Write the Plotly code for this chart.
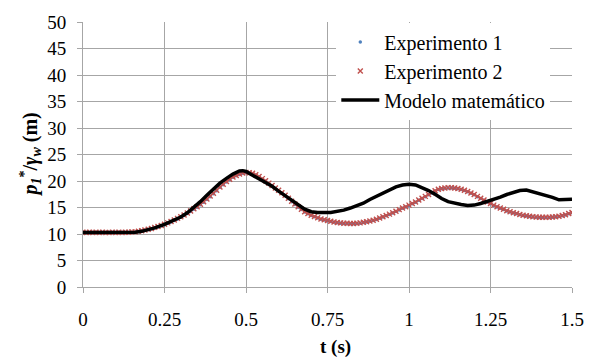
import plotly.graph_objects as go

# ---------------- data ----------------
t_exp = [round(i * 0.01, 2) for i in range(151)]

exp1 = [10.3, 10.3, 10.3, 10.3, 10.3, 10.3, 10.3, 10.3, 10.3, 10.3,
        10.3, 10.3, 10.3, 10.3, 10.3, 10.3, 10.35, 10.45, 10.55, 10.7,
        10.85, 11.0, 11.2, 11.35, 11.55, 11.75, 12.0, 12.25, 12.55, 12.85,
        13.15, 13.5, 13.85, 14.25, 14.65, 15.05, 15.5, 16.0, 16.5, 17.05,
        17.6, 18.15, 18.8, 19.3, 19.8, 20.25, 20.7, 21.0, 21.25, 21.45,
        21.55, 21.5, 21.35, 21.1, 20.75, 20.35, 19.95, 19.5, 19.05, 18.6,
        18.15, 17.7, 17.2, 16.65, 16.1, 15.55, 15.05, 14.6, 14.15, 13.8,
        13.5, 13.25, 13.0, 12.8, 12.65, 12.5, 12.35, 12.2, 12.1, 12.05,
        12.0, 12.0, 11.95, 11.95, 12.0, 12.05, 12.15, 12.25, 12.4, 12.55,
        12.75, 12.95, 13.2, 13.45, 13.7, 13.95, 14.25, 14.55, 14.85, 15.1,
        15.35, 15.7, 16.0, 16.35, 16.7, 17.05, 17.4, 17.75, 18.1, 18.4,
        18.55, 18.65, 18.7, 18.7, 18.65, 18.55, 18.4, 18.2, 17.95, 17.7,
        17.4, 17.05, 16.7, 16.35, 16.0, 15.7, 15.4, 15.1, 14.85, 14.6,
        14.35, 14.15, 13.95, 13.8, 13.65, 13.5, 13.4, 13.3, 13.2, 13.15,
        13.1, 13.1, 13.1, 13.1, 13.15, 13.2, 13.3, 13.45, 13.6, 13.8,
        14.0]

exp2 = [10.35, 10.3, 10.35, 10.3, 10.35, 10.3, 10.35, 10.3, 10.3, 10.35,
        10.3, 10.35, 10.3, 10.35, 10.35, 10.4, 10.4, 10.5, 10.6, 10.75,
        10.9, 11.05, 11.25, 11.4, 11.6, 11.85, 12.1, 12.35, 12.65, 12.95,
        13.25, 13.6, 13.95, 14.35, 14.75, 15.15, 15.6, 16.1, 16.6, 17.15,
        17.7, 18.25, 18.85, 19.4, 19.9, 20.35, 20.75, 21.05, 21.3, 21.5,
        21.6, 21.55, 21.45, 21.2, 20.85, 20.45, 20.05, 19.6, 19.15, 18.7,
        18.25, 17.8, 17.3, 16.75, 16.2, 15.65, 15.15, 14.65, 14.2, 13.85,
        13.55, 13.3, 13.05, 12.85, 12.7, 12.55, 12.4, 12.25, 12.15, 12.1,
        12.05, 12.05, 12.0, 12.0, 12.05, 12.1, 12.2, 12.3, 12.45, 12.6,
        12.8, 13.0, 13.25, 13.5, 13.75, 14.0, 14.3, 14.6, 14.9, 15.15,
        15.45, 15.75, 16.05, 16.4, 16.75, 17.1, 17.45, 17.8, 18.15, 18.45,
        18.6, 18.7, 18.75, 18.75, 18.7, 18.6, 18.45, 18.25, 18.0, 17.75,
        17.45, 17.1, 16.75, 16.4, 16.05, 15.75, 15.45, 15.15, 14.9, 14.65,
        14.4, 14.2, 14.0, 13.85, 13.7, 13.55, 13.45, 13.35, 13.25, 13.2,
        13.15, 13.15, 13.15, 13.15, 13.2, 13.25, 13.35, 13.5, 13.65, 13.85,
        14.05]

t_model = [0.0, 0.1, 0.16, 0.18, 0.2, 0.22, 0.25, 0.28, 0.3, 0.32, 0.34,
           0.36, 0.38, 0.4, 0.42, 0.44, 0.46, 0.48, 0.49, 0.5, 0.52, 0.54,
           0.56, 0.58, 0.6, 0.62, 0.64, 0.66, 0.68, 0.7, 0.72, 0.76, 0.78,
           0.8, 0.82, 0.84, 0.86, 0.88, 0.9, 0.92, 0.94, 0.96, 0.98, 1.0,
           1.02, 1.04, 1.06, 1.08, 1.1, 1.12, 1.14, 1.16, 1.18, 1.2, 1.22,
           1.24, 1.26, 1.28, 1.3, 1.32, 1.34, 1.36, 1.38, 1.4, 1.42, 1.44,
           1.46, 1.48, 1.5]
model = [10.3, 10.3, 10.35, 10.5, 10.8, 11.15, 11.8, 12.6, 13.2, 14.0, 15.0,
         16.1, 17.3, 18.5, 19.6, 20.5, 21.3, 21.9, 21.95, 21.8, 21.1, 20.5,
         19.8, 19.0, 18.1, 17.2, 16.3, 15.4, 14.7, 14.2, 14.05, 14.05, 14.2,
         14.5, 14.9, 15.3, 15.8, 16.5, 17.1, 17.7, 18.4, 18.9, 19.25, 19.4,
         19.25, 18.8, 18.2, 17.5, 16.7, 16.1, 15.8, 15.55, 15.4, 15.45, 15.75,
         16.1, 16.5, 16.95, 17.45, 17.85, 18.2, 18.3, 17.95, 17.7, 17.35, 16.9,
         16.45, 16.45, 16.55]

x_ticks = [0, 0.25, 0.5, 0.75, 1, 1.25, 1.5]
x_tick_labels = ["0", "0.25", "0.5", "0.75", "1", "1.25", "1.5"]
y_ticks = [0, 5, 10, 15, 20, 25, 30, 35, 40, 45, 50]

# ---------------- figure ----------------
FONT = "Liberation Serif"
GRID = "#a6a6a6"

fig = go.Figure()
fig.add_trace(go.Scatter(
    x=t_exp, y=exp1, mode="markers", name="Experimento 1",
    marker=dict(symbol="circle", size=3.5, color="#4f81bd", line=dict(width=0)),
))
fig.add_trace(go.Scatter(
    x=t_exp, y=exp2, mode="markers", name="Experimento 2",
    marker=dict(symbol="x-thin", size=5, color="#c0504d",
                line=dict(width=1.4, color="#c0504d")),
))
fig.add_trace(go.Scatter(
    x=t_model, y=model, mode="lines", name="Modelo matemático",
    line=dict(color="black", width=3.5),
))

fig.update_layout(
    width=596, height=358,
    margin=dict(l=83, r=20, t=18, b=71),
    paper_bgcolor="white", plot_bgcolor="white",
    font=dict(family=FONT, size=19, color="black"),
    showlegend=True,
    legend=dict(
        x=0.518, xanchor="left", y=0.998, yanchor="top",
        bgcolor="white", borderwidth=0,
        font=dict(family=FONT, size=20, color="black"),
        tracegroupgap=0, itemwidth=38,
        entrywidth=190, entrywidthmode="pixels",
    ),
    xaxis=dict(
        range=[0, 1.5], tickvals=x_ticks, ticktext=x_tick_labels,
        showgrid=True, gridcolor=GRID, gridwidth=1,
        showline=True, linecolor=GRID, linewidth=1,
        ticks="outside", ticklen=5, tickcolor=GRID,
        zeroline=False, ticklabelstandoff=10,
        tickfont=dict(family=FONT, size=19),
    ),
    yaxis=dict(
        range=[0, 50], tickvals=y_ticks,
        showgrid=True, gridcolor=GRID, gridwidth=1,
        showline=True, linecolor=GRID, linewidth=1,
        ticks="outside", ticklen=5, tickcolor=GRID,
        zeroline=False, ticklabelstandoff=7,
        tickfont=dict(family=FONT, size=19),
    ),
)

# axis titles as annotations, placed like the original
fig.add_annotation(
    text="<b>t (s)</b>", xref="paper", yref="paper", x=0.517, y=0,
    yshift=-60, showarrow=False, xanchor="center", yanchor="middle",
    font=dict(family=FONT, size=19),
)
fig.add_annotation(
    text="<b><i>p</i><sub><i>1</i></sub><sup>*</sup>/<i>γ</i><sub><i>w</i></sub> (m)</b>",
    xref="paper", yref="paper", x=0, y=0.5, xshift=-53,
    showarrow=False, textangle=-90, xanchor="center", yanchor="middle",
    font=dict(family=FONT, size=20),
)

fig.write_html("out.html")
